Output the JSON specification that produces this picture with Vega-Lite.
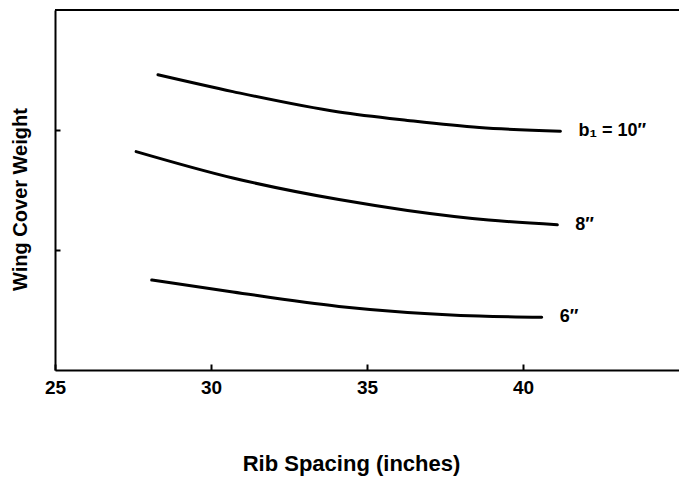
{
  "$schema": "https://vega.github.io/schema/vega-lite/v6.json",
  "width": 624,
  "height": 360,
  "autosize": {"type": "none"},
  "padding": {"left": 55, "top": 10, "right": 0, "bottom": 112},
  "background": "white",
  "config": {"view": {"stroke": null}, "font": "Liberation Sans"},
  "data": {
    "values": [
      {"series": "10", "label": "b₁ = 10″", "spacing": 28.3, "weight": 2.46},
      {"series": "10", "label": "b₁ = 10″", "spacing": 30.7, "weight": 2.32},
      {"series": "10", "label": "b₁ = 10″", "spacing": 34.1, "weight": 2.15},
      {"series": "10", "label": "b₁ = 10″", "spacing": 36.3, "weight": 2.08},
      {"series": "10", "label": "b₁ = 10″", "spacing": 38.6, "weight": 2.02},
      {"series": "10", "label": "b₁ = 10″", "spacing": 41.2, "weight": 1.99},
      {"series": "8", "label": "8″", "spacing": 27.6, "weight": 1.82},
      {"series": "8", "label": "8″", "spacing": 30.7, "weight": 1.60},
      {"series": "8", "label": "8″", "spacing": 34.1, "weight": 1.42},
      {"series": "8", "label": "8″", "spacing": 36.3, "weight": 1.33},
      {"series": "8", "label": "8″", "spacing": 38.9, "weight": 1.25},
      {"series": "8", "label": "8″", "spacing": 41.1, "weight": 1.21},
      {"series": "6", "label": "6″", "spacing": 28.1, "weight": 0.75},
      {"series": "6", "label": "6″", "spacing": 30.7, "weight": 0.65},
      {"series": "6", "label": "6″", "spacing": 34.1, "weight": 0.53},
      {"series": "6", "label": "6″", "spacing": 36.3, "weight": 0.48},
      {"series": "6", "label": "6″", "spacing": 38.6, "weight": 0.45},
      {"series": "6", "label": "6″", "spacing": 40.6, "weight": 0.44}
    ]
  },
  "layer": [
    {
      "mark": {"type": "rule", "color": "black", "strokeWidth": 2},
      "encoding": {"y": {"datum": 3, "type": "quantitative"}}
    },
    {
      "mark": {"type": "line", "interpolate": "monotone", "color": "black", "strokeWidth": 3, "strokeCap": "round"},
      "encoding": {
        "x": {
          "field": "spacing", "type": "quantitative",
          "scale": {"domain": [25, 45], "nice": false, "zero": false},
          "axis": {
            "title": "Rib Spacing (inches)", "values": [25, 30, 35, 40],
            "grid": false, "tickSize": -6, "tickWidth": 2, "tickColor": "black",
            "domainColor": "black", "domainWidth": 2,
            "labelFontSize": 19, "labelFontWeight": "bold", "labelColor": "black",
            "labelPadding": 14, "labelFlush": false,
            "titleFontSize": 22, "titleFontWeight": "bold", "titleColor": "black", "titlePadding": 56,
            "titleX": 296
          }
        },
        "y": {
          "field": "weight", "type": "quantitative",
          "scale": {"domain": [0, 3], "nice": false},
          "axis": {
            "title": "Wing Cover Weight", "values": [1, 2], "labels": false,
            "grid": false, "tickSize": -5, "tickWidth": 2, "tickColor": "black",
            "domainColor": "black", "domainWidth": 2,
            "titleFontSize": 20, "titleFontWeight": "bold", "titleColor": "black", "titlePadding": 24,
            "titleY": 189
          }
        },
        "detail": {"field": "series"}
      }
    },
    {
      "transform": [
        {"joinaggregate": [{"op": "max", "field": "spacing", "as": "maxs"}], "groupby": ["series"]},
        {"filter": "datum.spacing == datum.maxs"}
      ],
      "mark": {"type": "text", "align": "left", "baseline": "middle", "dx": 18, "fontSize": 18, "fontWeight": "bold", "color": "black"},
      "encoding": {
        "x": {"field": "spacing", "type": "quantitative"},
        "y": {"field": "weight", "type": "quantitative"},
        "text": {"field": "label"}
      }
    }
  ]
}
